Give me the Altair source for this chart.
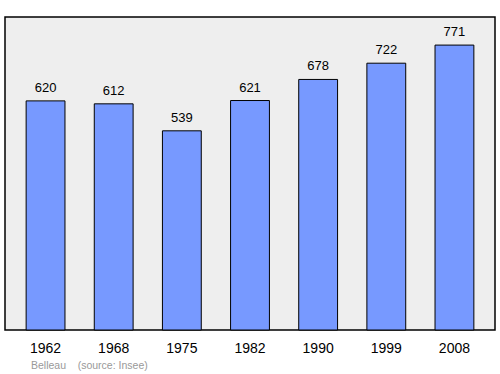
import altair as alt
import pandas as pd

years = ["1962", "1968", "1975", "1982", "1990", "1999", "2008"]
population = [620, 612, 539, 621, 678, 722, 771]
footer = "Belleau\u00a0\u00a0\u00a0\u00a0(source: Insee)"

df = pd.DataFrame({"year": years, "pop": population})

x = alt.X("year:N", sort=years, title=None,
          scale=alt.Scale(paddingInner=0.43, paddingOuter=0.31),
          axis=alt.Axis(domain=False, ticks=False, labelAngle=0, labelPadding=11,
                        labelFontSize=14, labelColor="#000000", labelFont="Liberation Sans"))
y = alt.Y("pop:Q", title=None, scale=alt.Scale(domain=[0, 847], nice=False),
          axis=None)

bars = alt.Chart(df).mark_bar(color="#7799ff", stroke="#000000", strokeWidth=1).encode(x=x, y=y)
labels = alt.Chart(df).mark_text(baseline="alphabetic", dy=-9, fontSize=13,
                                 font="Liberation Sans", color="#000000").encode(
    x=x, y=y, text="pop:Q")
foot = alt.Chart(pd.DataFrame({"t": [footer]})).mark_text(
    align="left", baseline="alphabetic", fontSize=10.5, font="Liberation Sans", color="#999999"
).encode(x=alt.value(26), y=alt.value(352), text="t:N")

chart = alt.layer(bars, labels, foot).properties(
    width=490, height=313,
    autosize=alt.AutoSizeParams(type="none"),
    padding={"left": 5, "top": 17, "right": 5, "bottom": 44},
    background="#ffffff",
).configure_view(fill="#eeeeee", stroke="#000000", strokeWidth=1.5)

chart.save("out.html", embed_options={"renderer": "svg", "actions": False})
